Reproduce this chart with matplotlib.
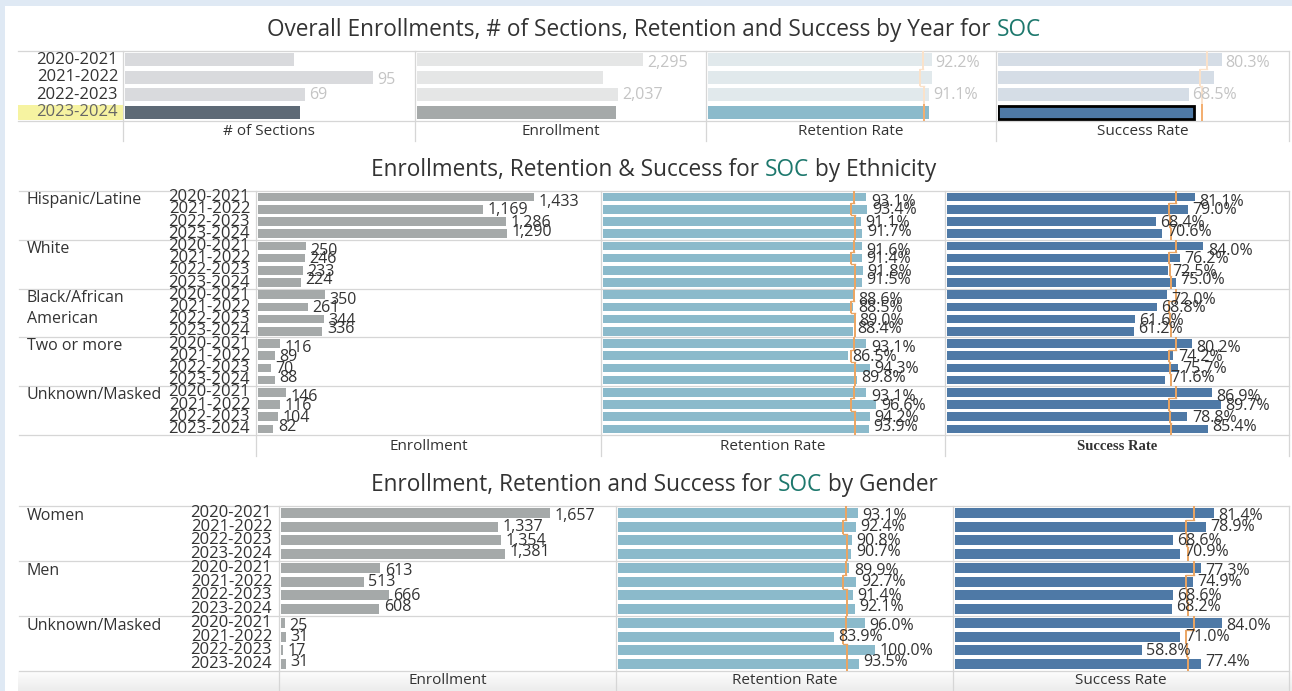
import matplotlib
matplotlib.use("Agg")
import matplotlib.pyplot as plt
import numpy as np

FONT = ["Open Sans", "DejaVu Sans"]
plt.rcParams["font.family"] = FONT

# ---------------------------------------------------------------- data
years = ["2020-2021", "2021-2022", "2022-2023", "2023-2024"]

overall_sections = [65, 95, 69, 67]
overall_enrollment = [2295, 1881, 2037, 2020]
overall_retention = [92.2, 92.3, 91.1, 91.2]
overall_success = [80.3, 77.6, 68.5, 70.3]

# college-wide reference rates per year (orange marks)
ref_retention = [88.7, 87.6, 88.9, 89.1]
ref_success = [75.1, 72.7, 73.2, 73.4]

ethnicities = ["Hispanic/Latine", "White", "Black/African\nAmerican",
               "Two or more", "Unknown/Masked"]
eth_enrollment = [[1433, 1169, 1286, 1290],
                  [250, 246, 233, 224],
                  [350, 261, 344, 336],
                  [116, 89, 70, 88],
                  [146, 116, 104, 82]]
eth_retention = [[93.1, 93.4, 91.1, 91.7],
                 [91.6, 91.4, 91.8, 91.5],
                 [88.6, 88.5, 89.0, 88.4],
                 [93.1, 86.5, 94.3, 89.8],
                 [93.1, 96.6, 94.2, 93.9]]
eth_success = [[81.1, 79.0, 68.4, 70.6],
               [84.0, 76.2, 72.5, 75.0],
               [72.0, 68.8, 61.6, 61.2],
               [80.2, 74.2, 75.7, 71.6],
               [86.9, 89.7, 78.8, 85.4]]

genders = ["Women", "Men", "Unknown/Masked"]
gen_enrollment = [[1657, 1337, 1354, 1381],
                  [613, 513, 666, 608],
                  [25, 31, 17, 31]]
gen_retention = [[93.1, 92.4, 90.8, 90.7],
                 [89.9, 92.7, 91.4, 92.1],
                 [96.0, 83.9, 100.0, 93.5]]
gen_success = [[81.4, 78.9, 68.6, 70.9],
               [77.3, 74.9, 68.6, 68.2],
               [84.0, 71.0, 58.8, 77.4]]

# ---------------------------------------------------------------- style
W, H = 1292, 691
TXT = "#333333"
GRID = "#d6d6d6"
TEAL = "#1d786d"
ORANGE = "#eba562"
C_SECT, C_SECT_F = "#5e6a76", "#d9dadd"
C_ENR, C_ENR_F = "#a5a9a9", "#e5e6e6"
C_RET, C_RET_F = "#8bbacb", "#e1e9ec"
C_SUC, C_SUC_F = "#4e79a6", "#d5dde6"
FS = 11.5
FS_YEAR = 12
FS_TITLE = 16.3

fig = plt.figure(figsize=(W / 100, H / 100), dpi=100)
fig.patch.set_facecolor("#dfe9f4")

# full-figure canvas in pixel coordinates for frames, grid and text
base = fig.add_axes([0, 0, 1, 1])
base.set_xlim(0, W)
base.set_ylim(H, 0)
base.axis("off")
base.add_patch(plt.Rectangle((5, 6), W - 5, H - 6, color="white", lw=0, zorder=0))


def hline(y, x0, x1):
    base.plot([x0, x1], [y, y], color=GRID, lw=0.9, zorder=1)


def vline(x, y0, y1):
    base.plot([x, x], [y0, y1], color=GRID, lw=0.9, zorder=1)


def btext(x, y, s, **kw):
    opts = dict(fontsize=FS, color=TXT, va="center", zorder=5)
    opts.update(kw)
    base.text(x, y, s, **opts)


def title(xc, yc, parts, size=FS_TITLE):
    r = fig.canvas.get_renderer()
    probe = base.text(0, 0, "x x", fontsize=size)
    w2 = probe.get_window_extent(r).width
    probe.set_text("xx")
    space = w2 - probe.get_window_extent(r).width
    probe.remove()
    objs, widths = [], []
    for s, c in parts:
        t = base.text(0, yc, s, fontsize=size, color=c, va="center", ha="left")
        objs.append(t)
        widths.append(t.get_window_extent(r).width)
    total = sum(widths) + space * (len(parts) - 1)
    x = xc - total / 2
    for t, w in zip(objs, widths):
        t.set_x(x)
        x += w + space


def panel_axes(x0, x1, top, bottom, scale, nrows):
    start = x0 + 1.5
    ax = fig.add_axes([start / W, 1 - bottom / H, (x1 - start) / W, (bottom - top) / H])
    ax.set_xlim(0, (x1 - start) / scale)
    ax.set_ylim(nrows, 0)
    ax.axis("off")
    ax.patch.set_alpha(0)
    return ax


def ref_steps(ax, ref, first_row, colors, lw=1.4):
    for r in range(4):
        ax.plot([ref[r], ref[r]], [first_row + r, first_row + r + 1],
                color=colors[r], lw=lw, zorder=3, solid_capstyle="butt")
        if r < 3:
            ax.plot([ref[r], ref[r + 1]], [first_row + r + 1] * 2,
                    color=colors[r], lw=lw * 0.7, zorder=3)


def fmt_int(v):
    return f"{v:,}"


def fmt_pct(v):
    return f"{v:.1f}%"


# ---------------------------------------------------------------- top section
title(654, 30, [("Overall Enrollments, # of Sections, Retention and Success by Year for", TXT),
                ("SOC", TEAL)])

T_TOP, T_BOT = 51, 121
T_X = [123, 415, 706, 996, 1289]
hline(T_TOP, 18, 1289)
hline(T_BOT, 18, 1289)
for x in T_X:
    vline(x, T_TOP, 141)

pitch_t = (T_BOT - T_TOP) / 4
base.add_patch(plt.Rectangle((18, T_TOP + 3 * pitch_t + 1.5), 123 - 18, pitch_t - 3,
                             color="#f6f3a1", lw=0, zorder=2))
for i, y in enumerate(years):
    btext(118, T_TOP + (i + 0.5) * pitch_t, y, ha="right", fontsize=FS_YEAR,
          color="#666666" if i == 3 else TXT)

top_specs = [
    ("# of Sections", overall_sections, 2.615, C_SECT, C_SECT_F, fmt_int, [1, 2], None),
    ("Enrollment", overall_enrollment, 0.0989, C_ENR, C_ENR_F, fmt_int, [0, 2], None),
    ("Retention Rate", overall_retention, 2.43, C_RET, C_RET_F, fmt_pct, [0, 2], ref_retention),
    ("Success Rate", overall_success, 2.79, C_SUC, C_SUC_F, fmt_pct, [0, 2], ref_success),
]
top_dy = [3, 3, 0, 0]
for k, (name, vals, scale, c_on, c_off, fmt, shown, ref) in enumerate(top_specs):
    ax = panel_axes(T_X[k], T_X[k + 1], T_TOP, T_BOT, scale, 4)
    cols = [c_off, c_off, c_off, c_on]
    bars = ax.barh(np.arange(4) + 0.5, vals, height=0.72, color=cols, lw=0, zorder=2)
    if name == "Success Rate":
        bars[3].set_edgecolor("black")
        bars[3].set_linewidth(2.0)
    if ref is not None:
        ref_steps(ax, ref, 0, ["#fbe2ca"] * 3 + ["#f3ad6e"])
    for i in shown:
        ax.text(vals[i] + 4 / scale, i + 0.5 + top_dy[i] / pitch_t, fmt(vals[i]),
                va="center", ha="left", fontsize=FS, color="#c4c4c4", clip_on=False, zorder=4)
    btext((T_X[k] + T_X[k + 1]) / 2, 131, name, ha="center", fontsize=11)


# ---------------------------------------------------------------- grouped sections
def grouped_section(groups, data, top, bottom, xs, scales, year_x, label_dy,
                    headers, header_y, line_bottom, group_dy, header_fonts):
    ng = len(groups)
    nrows = ng * 4
    gp = (bottom - top) / ng
    rp = gp / 4
    for g in range(ng + 1):
        hline(top + g * gp, 19, 1289)
    for x in xs:
        vline(x, top, line_bottom)
    for g, name in enumerate(groups):
        btext(27, top + g * gp + group_dy, name, va="top", linespacing=1.45)
        for r, y in enumerate(years):
            btext(year_x, top + g * gp + (r + 0.5) * rp, y, ha="right", fontsize=FS_YEAR)
    colors = [C_ENR, C_RET, C_SUC]
    fmts = [fmt_int, fmt_pct, fmt_pct]
    refs = [None, ref_retention, ref_success]
    for k in range(3):
        ax = panel_axes(xs[k], xs[k + 1], top, bottom, scales[k], nrows)
        vals = [v for grp in data[k] for v in grp]
        ax.barh(np.arange(nrows) + 0.5, vals, height=0.72, color=colors[k], lw=0, zorder=2)
        if refs[k] is not None:
            for g in range(ng):
                ref_steps(ax, refs[k], g * 4, [ORANGE] * 4)
        for i, v in enumerate(vals):
            ax.text(v + 4.5 / scales[k], i + 0.5 + label_dy[i % 4] / rp, fmts[k](v),
                    va="center", ha="left", fontsize=FS, color=TXT, clip_on=False, zorder=4)
        btext((xs[k] + xs[k + 1]) / 2, header_y, headers[k], ha="center", **header_fonts[k])


title(654, 170, [("Enrollments, Retention & Success for", TXT), ("SOC", TEAL),
                 ("by Ethnicity", TXT)])
grouped_section(ethnicities, [eth_enrollment, eth_retention, eth_success],
                191, 435, [256, 601, 945, 1289], [0.1933, 2.835, 3.058], 250,
                [5, 1, 1.5, -2], ["Enrollment", "Retention Rate", "Success Rate"], 446, 456, 1,
                [dict(fontsize=11), dict(fontsize=11),
                 dict(fontsize=10.5, family=["Liberation Serif"], weight="bold")])

# light band behind the bottom header row
grad = np.linspace(0, 1, 50).reshape(-1, 1)
base.imshow(grad, extent=(18, W, 691, 671), cmap=matplotlib.colors.LinearSegmentedColormap.from_list(
    "band", ["#fdfdfd", "#ececec"]), aspect="auto", zorder=0.5)
base.set_xlim(0, W)
base.set_ylim(H, 0)

title(654, 485, [("Enrollment, Retention and Success for", TXT), ("SOC", TEAL),
                 ("by Gender", TXT)])
grouped_section(genders, [gen_enrollment, gen_retention, gen_success],
                506, 671, [279, 616, 953, 1289], [0.1627, 2.578, 3.183], 272,
                [3.4, 0, 0.7, -2.3], ["Enrollment", "Retention Rate", "Success Rate"], 681, 691, 2,
                [dict(fontsize=11), dict(fontsize=11), dict(fontsize=11)])

fig.savefig("out.png", dpi=100, facecolor=fig.get_facecolor())
